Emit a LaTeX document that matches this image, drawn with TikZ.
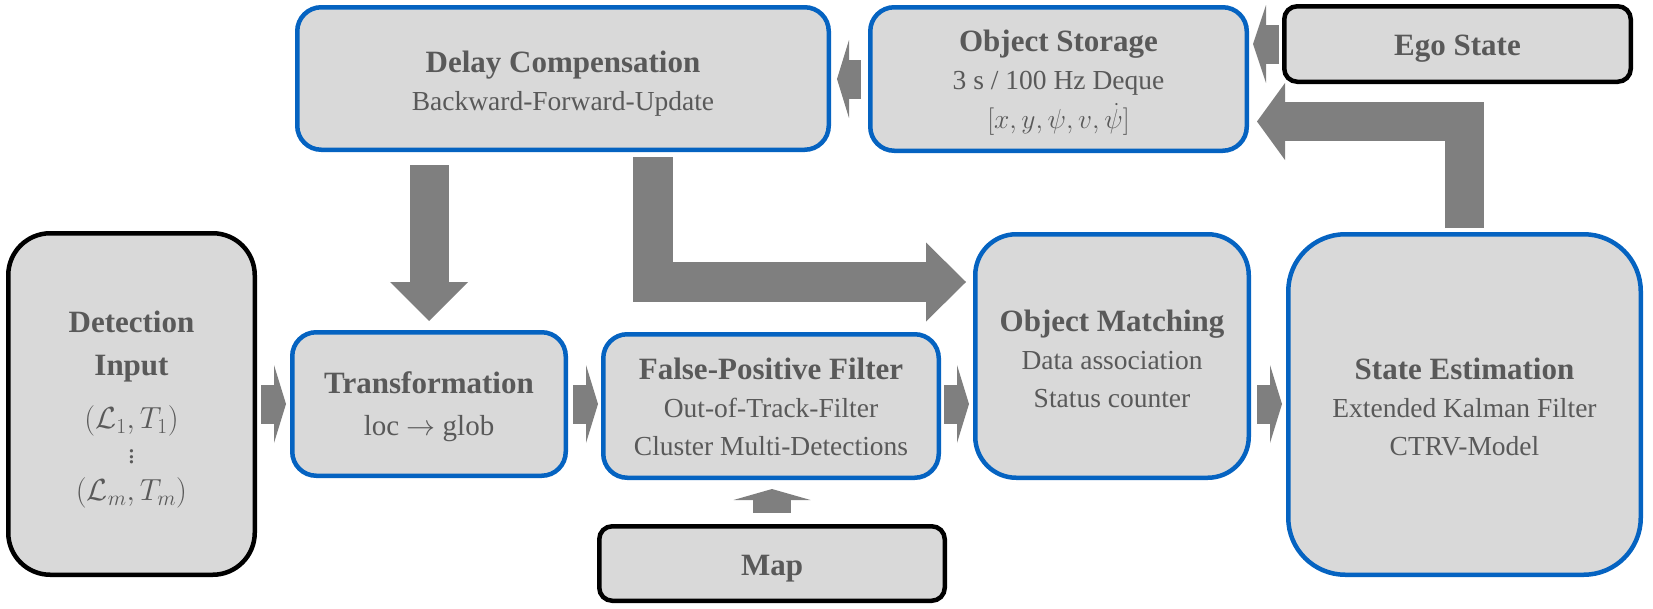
\RequirePackage{fix-cm}
\documentclass[tikz,border=0pt]{standalone}
\usepackage{fontspec}
\setmainfont{Liberation Serif}
\usetikzlibrary{arrows.meta}
\definecolor{boxfill}{HTML}{D9D9D9}
\definecolor{boxblue}{HTML}{0563C1}
\definecolor{txtgray}{HTML}{595959}
\definecolor{arrgray}{HTML}{7F7F7F}
\newcommand{\ttl}[1]{{\bfseries\fontsize{31}{38}\selectfont #1}}
\newcommand{\detmath}[1]{{\fontsize{30.5}{38}\selectfont #1}}
\newcommand{\mydots}{\vbox{\baselineskip5.5pt\lineskiplimit0pt\lineskip0pt\hbox{.}\hbox{.}\hbox{.}}}
\begin{document}
\begin{tikzpicture}[x=1pt,y=-1pt,
  box/.style={draw=boxblue, fill=boxfill, line width=4.5pt, inner sep=0pt},
  kbox/.style={box, draw=black},
  txt/.style={text=txtgray, align=center, font=\fontsize{27.5}{38}\selectfont, inner sep=0pt},
  blk/.style={draw=arrgray, line width=39pt},
  tip/.style n args={2}{-{Triangle[width=#1,length=#2,line width=0pt]}}
]
\useasboundingbox (0,0) rectangle (1653,608);

% boxes
\node[box, rounded corners=24pt, minimum width=531.5pt, minimum height=142.5pt] (dc) at (563,78.5) {};
\node[box, rounded corners=24pt, minimum width=376.5pt, minimum height=143.5pt] (os) at (1058.5,79) {};
\node[kbox, rounded corners=13pt, minimum width=346.5pt, minimum height=75.5pt] (ego) at (1457.5,44) {};
\node[kbox, rounded corners=42pt, minimum width=246.5pt, minimum height=341.5pt] (det) at (131.5,404) {};
\node[box, rounded corners=24pt, minimum width=273.5pt, minimum height=143.5pt] (trans) at (429,404) {};
\node[box, rounded corners=24pt, minimum width=335.5pt, minimum height=143.5pt] (fp) at (771,406) {};
\node[box, rounded corners=41pt, minimum width=273.5pt, minimum height=243.5pt] (om) at (1112,356) {};
\node[box, rounded corners=57pt, minimum width=352.5pt, minimum height=340.5pt] (se) at (1464.5,404.5) {};
\node[kbox, rounded corners=13pt, minimum width=345.5pt, minimum height=74.5pt] (map) at (772,563.5) {};

% texts
\node[txt] (dcT) at ([yshift=-5pt]dc.center) {\ttl{Delay Compensation}\\Backward-Forward-Update};
\node[txt] (osT) at ([yshift=-3.5pt]os.center) {\ttl{Object Storage}\\3 s / 100 Hz Deque\\[1pt]$\bigl[x,y,\psi,v,\dot{\psi}\bigr]$};
\node[txt] (egoT) at ([yshift=-5pt]ego.center) {\ttl{Ego State}};
\node[txt] (detT) at ([yshift=-6pt]det.center) {\ttl{Detection}\\[5pt]\ttl{Input}\\[15pt]\detmath{$(\mathcal{L}_1,T_1)$}\\[-3pt]\mydots\\[-1pt]\detmath{$(\mathcal{L}_m,T_m)$}};
\node[txt] (transT) at ([yshift=-3pt]trans.center) {\ttl{Transformation}\\[4pt]{\fontsize{29}{38}\selectfont loc $\rightarrow$ glob}};
\node[txt] (fpT) at ([yshift=-1pt]fp.center) {\ttl{False-Positive Filter}\\Out-of-Track-Filter\\Cluster Multi-Detections};
\node[txt] (omT) at ([yshift=-2.5pt]om.center) {\ttl{Object Matching}\\Data association\\Status counter};
\node[txt] (seT) at ([yshift=-2pt]se.center) {\ttl{State Estimation}\\Extended Kalman Filter\\CTRV-Model};
\node[txt] (mapT) at ([yshift=-5pt]map.center) {\ttl{Map}};

% block arrows
\coordinate (c1) at (653,282);
\coordinate (c2) at (1465,121.5);
\draw[blk, tip={78pt}{39pt}, shorten <=13pt, shorten >=9pt] (trans.north |- dc.south) -- (trans.north);
\draw[blk, line width=40pt, tip={79pt}{40pt}, shorten <=5pt, shorten >=7pt] (dc.south -| c1) -- (c1) -- (c1 -| om.west);
\draw[blk, tip={77pt}{28pt}, shorten <=4pt, shorten >=8pt] (se.north) -- (se.north |- c2) -- (c2 -| os.east);
\draw[blk, tip={78pt}{13pt}, shorten <=3pt, shorten >=4pt] (ego.west) -- (ego.west -| os.east);
\draw[blk, tip={78pt}{12pt}, shorten <=7pt, shorten >=6pt] (os.west) -- (os.west -| dc.east);
\draw[blk, line width=38pt, tip={77pt}{11pt}, shorten <=11pt, shorten >=9pt] (map.north) -- (map.north |- fp.south);
\draw[blk, tip={78pt}{12pt}, shorten <=4pt, shorten >=4pt] (det.east) -- (trans.west);
\draw[blk, tip={78pt}{12pt}, shorten <=5pt, shorten >=3pt] (trans.east) -- (trans.east -| fp.west);
\draw[blk, tip={78pt}{12pt}, shorten <=3pt, shorten >=4pt] (fp.east |- trans) -- (om.west |- trans);
\draw[blk, tip={78pt}{12pt}, shorten <=6pt, shorten >=4pt] (om.east |- trans) -- (se.west |- trans);
\end{tikzpicture}
\end{document}
